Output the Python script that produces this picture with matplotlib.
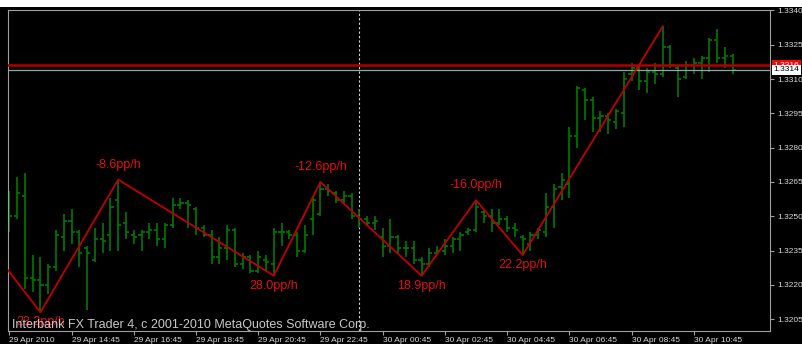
import matplotlib
matplotlib.use("Agg")
import matplotlib.pyplot as plt
from matplotlib.patches import Rectangle
import matplotlib.transforms as mtransforms
import numpy as np

# ---------------- data (M15 bars, EURUSD) ----------------
opens = [1.3257, 1.3250, 1.3259, 1.3223, 1.3222, 1.3220, 1.3228, 1.3241, 1.3248, 1.3243,
         1.3236, 1.3231, 1.3240, 1.3242, 1.3257, 1.3247, 1.3242, 1.3242, 1.3243, 1.3244,
         1.3240, 1.3246, 1.3255, 1.3256, 1.3253, 1.3245, 1.3242, 1.3232, 1.3236, 1.3244,
         1.3229, 1.3232, 1.3226, 1.3231, 1.3229, 1.3243, 1.3243, 1.3242, 1.3235, 1.3249,
         1.3251, 1.3262, 1.3260, 1.3257, 1.3259, 1.3250, 1.3249, 1.3247, 1.3241, 1.3237,
         1.3241, 1.3236, 1.3236, 1.3231, 1.3229, 1.3234, 1.3235, 1.3237, 1.3240, 1.3243,
         1.3244, 1.3252, 1.3250, 1.3247, 1.3249, 1.3245, 1.3241, 1.3238, 1.3242, 1.3243,
         1.3254, 1.3263, 1.3264, 1.3285, 1.3305, 1.3301, 1.3293, 1.3294, 1.3291, 1.3295,
         1.3312, 1.3314, 1.3309, 1.3313, 1.3312, 1.3324, 1.3315, 1.3311, 1.3316, 1.3317,
         1.3319, 1.3327, 1.3319, 1.3320]
highs = [1.3261, 1.3267, 1.3269, 1.3233, 1.3232, 1.3229, 1.3244, 1.3251, 1.3253, 1.3244,
         1.3237, 1.3245, 1.3247, 1.3258, 1.3266, 1.3252, 1.3244, 1.3244, 1.3247, 1.3247,
         1.3247, 1.3258, 1.3258, 1.3257, 1.3254, 1.3246, 1.3244, 1.3241, 1.3246, 1.3245,
         1.3234, 1.3233, 1.3235, 1.3233, 1.3245, 1.3247, 1.3244, 1.3243, 1.3246, 1.3259,
         1.3265, 1.3264, 1.3261, 1.3261, 1.3260, 1.3253, 1.3250, 1.3250, 1.3245, 1.3249,
         1.3242, 1.3239, 1.3239, 1.3232, 1.3236, 1.3237, 1.3240, 1.3241, 1.3243, 1.3245,
         1.3257, 1.3253, 1.3253, 1.3253, 1.3250, 1.3247, 1.3242, 1.3243, 1.3245, 1.3260,
         1.3264, 1.3269, 1.3289, 1.3307, 1.3306, 1.3302, 1.3296, 1.3295, 1.3297, 1.3313,
         1.3317, 1.3316, 1.3315, 1.3317, 1.3333, 1.3325, 1.3316, 1.3318, 1.3319, 1.3320,
         1.3328, 1.3332, 1.3324, 1.3321]
lows = [1.3243, 1.3249, 1.3218, 1.3217, 1.3208, 1.3216, 1.3226, 1.3235, 1.3238, 1.3228,
        1.3209, 1.3230, 1.3234, 1.3235, 1.3235, 1.3240, 1.3238, 1.3235, 1.3240, 1.3237,
        1.3236, 1.3245, 1.3253, 1.3245, 1.3242, 1.3241, 1.3229, 1.3229, 1.3231, 1.3228,
        1.3227, 1.3225, 1.3225, 1.3226, 1.3224, 1.3237, 1.3240, 1.3232, 1.3234, 1.3242,
        1.3250, 1.3259, 1.3256, 1.3256, 1.3249, 1.3245, 1.3246, 1.3244, 1.3232, 1.3234,
        1.3234, 1.3232, 1.3229, 1.3224, 1.3228, 1.3233, 1.3233, 1.3234, 1.3235, 1.3242,
        1.3243, 1.3247, 1.3243, 1.3246, 1.3243, 1.3241, 1.3233, 1.3235, 1.3240, 1.3241,
        1.3245, 1.3257, 1.3258, 1.3280, 1.3292, 1.3287, 1.3287, 1.3286, 1.3288, 1.3289,
        1.3309, 1.3305, 1.3304, 1.3308, 1.3311, 1.3315, 1.3302, 1.3310, 1.3312, 1.3310,
        1.3313, 1.3317, 1.3315, 1.3312]
closes = [1.3250, 1.3260, 1.3223, 1.3222, 1.3220, 1.3228, 1.3242, 1.3248, 1.3243, 1.3234,
          1.3234, 1.3240, 1.3239, 1.3254, 1.3246, 1.3243, 1.3241, 1.3243, 1.3244, 1.3240,
          1.3246, 1.3255, 1.3256, 1.3255, 1.3245, 1.3242, 1.3232, 1.3236, 1.3244, 1.3229,
          1.3232, 1.3226, 1.3232, 1.3230, 1.3243, 1.3243, 1.3242, 1.3235, 1.3242, 1.3257,
          1.3262, 1.3261, 1.3257, 1.3259, 1.3250, 1.3249, 1.3247, 1.3248, 1.3237, 1.3241,
          1.3236, 1.3236, 1.3231, 1.3229, 1.3234, 1.3235, 1.3237, 1.3240, 1.3242, 1.3244,
          1.3254, 1.3250, 1.3247, 1.3249, 1.3245, 1.3244, 1.3240, 1.3242, 1.3244, 1.3254,
          1.3262, 1.3266, 1.3285, 1.3306, 1.3301, 1.3293, 1.3294, 1.3292, 1.3296, 1.3310,
          1.3315, 1.3309, 1.3313, 1.3312, 1.3324, 1.3316, 1.3310, 1.3316, 1.3317, 1.3319,
          1.3327, 1.3319, 1.3320, 1.3314]

zz_bars = [-1, 4, 14, 34, 40, 53, 60, 66, 84]
zz_prices = [1.3230, 1.3208, 1.3266, 1.3224, 1.3265, 1.3224, 1.3257, 1.3233, 1.3333]
zz_labels = ["", "23.2pp/h", "-8.6pp/h", "28.0pp/h", "-12.6pp/h", "18.9pp/h",
             "-16.0pp/h", "22.2pp/h", ""]

ask_price = 1.3316
bid_price = 1.3314
separator_bar = 45

price_ticks = [1.3340, 1.3325, 1.3310, 1.3295, 1.3280, 1.3265, 1.3250, 1.3235, 1.3220, 1.3205]
time_tick_bars = [0, 8, 16, 24, 32, 40, 48, 56, 64, 72, 80, 88]
time_tick_labels = ["29 Apr 2010", "29 Apr 14:45", "29 Apr 16:45", "29 Apr 18:45",
                    "29 Apr 20:45", "29 Apr 22:45", "30 Apr 00:45", "30 Apr 02:45",
                    "30 Apr 04:45", "30 Apr 06:45", "30 Apr 08:45", "30 Apr 10:45"]
copyright_text = "Interbank FX Trader 4, c 2001-2010 MetaQuotes Software Corp."

# ---------------- figure ----------------
W, H = 803, 344
fig = plt.figure(figsize=(W / 100, H / 100), dpi=100, facecolor="black")
fig.patches.append(Rectangle((0, 1 - 7 / H), 1, 7 / H, transform=fig.transFigure,
                             facecolor="white", edgecolor="none", zorder=0))
ax = fig.add_axes([8 / W, 13 / H, 762 / W, 321 / H])
ax.set_facecolor("black")

font = "Liberation Sans"
idx = np.arange(len(opens))
green = "#007a00"
ax.vlines(idx, lows, highs, color=green, lw=1.2, zorder=2)
ax.hlines(opens, idx - 0.4, idx, color=green, lw=1.2, zorder=2)
ax.hlines(closes, idx, idx + 0.4, color=green, lw=1.2, zorder=2)

# price lines
ax.axhline(ask_price, color="#b00000", lw=1.8, zorder=3)
ax.axhline(bid_price, color="#9aa0a8", lw=0.9, zorder=3)

# separator
ax.axvline(separator_bar, color="#d8d8d8", lw=0.8, ls=(0, (2, 2)), zorder=1)

# zigzag
ax.plot(zz_bars, zz_prices, color="#c00000", lw=1.3, zorder=4)
for b, p, lab in zip(zz_bars, zz_prices, zz_labels):
    if not lab:
        continue
    up = lab.startswith("-")
    ax.annotate(lab, (b, p), xytext=(0, 15 if up else -10), textcoords="offset pixels",
                ha="center", va="center", color="#e01010", fontsize=9,
                family=font, zorder=5)

ax.set_xlim(-0.17, 97.8)
ax.set_ylim(1.31998, 1.33402)

for s in ax.spines.values():
    s.set_color("#a0a0a0")
    s.set_linewidth(0.8)

ax.yaxis.tick_right()
ax.set_yticks(price_ticks)
ax.set_yticklabels([f"{v:.4f}" for v in price_ticks])
ax.set_xticks(time_tick_bars)
ax.set_xticklabels(time_tick_labels)
ax.tick_params(axis="both", colors="#a0a0a0", labelcolor="#d8d8d8", labelsize=6,
               length=3, width=0.8, direction="out")
ax.tick_params(axis="y", pad=2)
ax.tick_params(axis="x", pad=1)
for lbl in ax.get_xticklabels():
    lbl.set_ha("left")
    lbl.set_family(font)
for lbl in ax.get_yticklabels():
    lbl.set_family(font)

# price boxes on right axis
trans = mtransforms.blended_transform_factory(ax.transAxes, ax.transData)
ax.text(1.0 + 3.5 / 762, ask_price, f"{ask_price:.4f}", transform=trans, color="white",
        fontsize=6, family=font, va="center", ha="left", zorder=6, clip_on=False,
        bbox=dict(boxstyle="square,pad=0.2", facecolor="#ff0000", edgecolor="none"))
ax.text(1.0 + 3.5 / 762, bid_price, f"{bid_price:.4f}", transform=trans, color="black",
        fontsize=6, family=font, va="center", ha="left", zorder=7, clip_on=False,
        bbox=dict(boxstyle="square,pad=0.2", facecolor="white", edgecolor="none"))

fig.text(12 / W, 1 - 325 / H, copyright_text, color="#c8c8c8", fontsize=9,
         family=font, ha="left", va="center", zorder=10)

fig.savefig("out.png", dpi=100, facecolor=fig.get_facecolor())
